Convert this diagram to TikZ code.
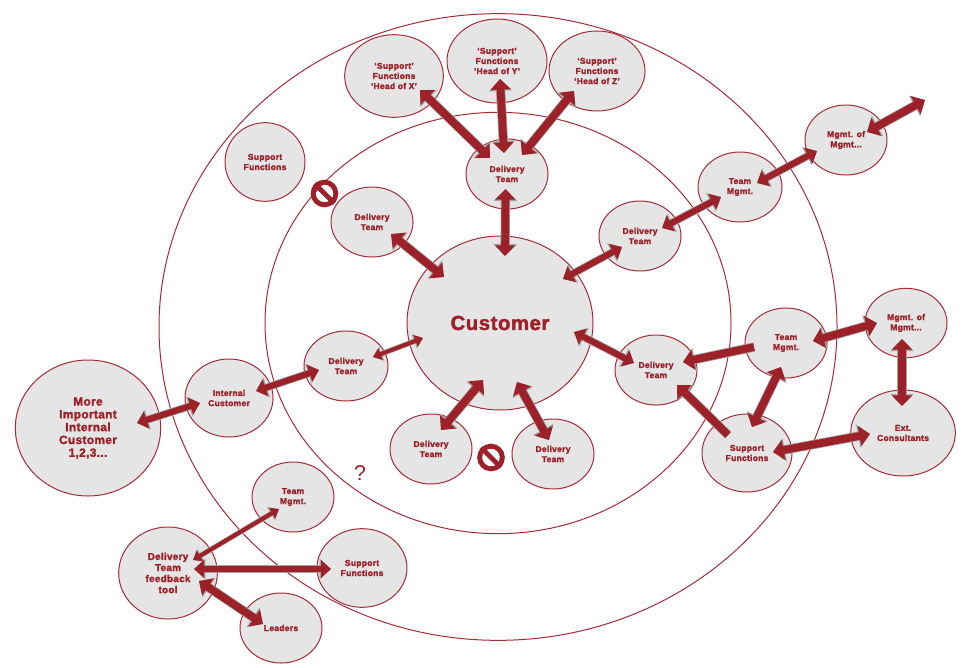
\documentclass[tikz,border=0pt]{standalone}
\usepackage{fontspec}
\setmainfont{Liberation Sans}[BoldFeatures={FakeBold=2,LetterSpace=3}]
\usetikzlibrary{shapes.geometric, arrows.meta}
\definecolor{bubble-red}{HTML}{A62B3A}
\definecolor{link-red}{HTML}{9C2129}
\definecolor{light-bg}{HTML}{E5E5E5}
\definecolor{edge-grey}{HTML}{A3A3A3}
\tikzset{
  ring/.style={draw=bubble-red, line width=0.75pt, ellipse, inner sep=0pt},
  bubble/.style={ring, fill=light-bg, align=center, text=link-red,
    font=\bfseries\fontsize{6.4pt}{7.6pt}\selectfont,
    minimum width=61.5pt, minimum height=52.5pt},
  widelink/.style={draw=link-red, line width=5.8pt, >={Triangle[width=15pt,length=8pt]},
    preaction={draw=edge-grey, line width=7pt, >={Triangle[width=17pt,length=9pt]}}},
  midlink/.style={draw=link-red, line width=4.6pt, >={Triangle[width=13pt,length=7.5pt]},
    preaction={draw=edge-grey, line width=5.8pt, >={Triangle[width=15pt,length=8.5pt]}}},
  thinlink/.style={draw=link-red, line width=3pt, >={Triangle[width=9pt,length=6pt]},
    preaction={draw=edge-grey, line width=4pt, >={Triangle[width=11pt,length=7pt]}}},
  stopsign/.style={circle, draw=link-red, line width=3.7pt, minimum size=17pt, inner sep=0pt},
}
\begin{document}
\begin{tikzpicture}[x=0.75pt, y=-0.75pt]
    % Coordinates are the pixels of the 973x667 frame, y pointing down.
    \useasboundingbox (0,0) rectangle (973,667);
    % two rings round the customer
    \node[ring, minimum width=508.5pt, minimum height=470pt] (outer) at (498,327) {};
    \node[ring, minimum width=349.5pt, minimum height=316pt] (inner) at (498,323) {};
    % bubbles
    \node[bubble, minimum width=139.5pt, minimum height=130.5pt,
          font=\bfseries\fontsize{15.2pt}{18pt}\selectfont] (customer) at (500,323) {Customer};
    \node[bubble, minimum width=74pt, minimum height=62pt] (headx) at (394,76) {‘Support’\\Functions\\‘Head of X’};
    \node[bubble, minimum width=75pt, minimum height=63pt] (heady) at (497,61) {‘Support’\\Functions\\‘Head of Y’};
    \node[bubble, minimum width=72pt, minimum height=60pt] (headz) at (597,71) {‘Support’\\Functions\\‘Head of Z’};
    \node[bubble] (deltop) at (507,174) {Delivery\\Team};
    \node[bubble, minimum width=60pt, minimum height=59pt] (funcleft) at (265,162) {Support\\Functions};
    \node[bubble] (delleft) at (372,222) {Delivery\\Team};
    \node[bubble] (delright) at (640,236) {Delivery\\Team};
    \node[bubble, minimum width=63pt] (teamtop) at (740,187) {Team\\Mgmt.};
    \node[bubble] (mgmttop) at (846,140) {Mgmt. of\\Mgmt...};
    \node[bubble, minimum width=63pt] (dellow) at (346,366) {Delivery\\Team};
    \node[bubble, minimum width=66pt, minimum height=58.5pt] (internal) at (229,398) {Internal\\Customer};
    \node[bubble, minimum width=109pt, minimum height=102pt,
          font=\bfseries\fontsize{8.9pt}{9.6pt}\selectfont] (important) at (88,428)
          {More\\Important\\Internal\\Customer\\1,2,3...};
    \node[bubble] (delbotl) at (431,449) {Delivery\\Team};
    \node[bubble] (delbotr) at (553,454) {Delivery\\Team};
    \node[bubble] (delside) at (656,370) {Delivery\\Team};
    \node[bubble] (teamside) at (786,343) {Team\\Mgmt.};
    \node[bubble, minimum height=52pt] (mgmtside) at (906,323) {Mgmt. of\\Mgmt...};
    \node[bubble, minimum width=78.5pt, minimum height=64.5pt] (consult) at (903,433) {Ext.\\Consultants};
    \node[bubble, minimum width=67.5pt, minimum height=58.5pt] (funcside) at (747,453) {Support\\Functions};
    \node[bubble, minimum width=74pt, minimum height=69pt,
          font=\bfseries\fontsize{7.4pt}{8.3pt}\selectfont] (feedback) at (168,573) {Delivery\\Team\\feedback\\tool};
    \node[bubble] (teamfoot) at (293,497) {Team\\Mgmt.};
    \node[bubble, minimum width=67.5pt, minimum height=59pt] (funcfoot) at (362,568) {Support\\Functions};
    \node[bubble] (leaders) at (281,628) {Leaders};
    \coordinate (offpage) at (925,100);
    % links
    \draw[widelink, <->] ([shift={(26,14)}]headx.center) -- ([shift={(-17,-16)}]deltop.center);
    \draw[widelink, <->] ([shift={(3,18)}]heady.center) -- ([shift={(-3,-21)}]deltop.center);
    \draw[widelink, <->] ([shift={(-23,20)}]headz.center) -- ([shift={(15,-19)}]deltop.center);
    \draw[widelink, <->] ([shift={(-1.5,15)}]deltop.center) -- ([shift={(5,-67)}]customer.center);
    \draw[widelink, <->] ([shift={(19,12)}]delleft.center) -- ([shift={(-56,-46)}]customer.center);
    \draw[midlink, <->] ([shift={(-18,11)}]delright.center) -- ([shift={(63,-44)}]customer.center);
    \draw[midlink, <->] ([shift={(22,-8)}]delright.center) -- ([shift={(-19,10)}]teamtop.center);
    \draw[midlink, <->] ([shift={(17,-4)}]teamtop.center) -- ([shift={(-29,11)}]mgmttop.center);
    \draw[widelink, <->] ([shift={(21,-8)}]mgmttop.center) -- (offpage);
    \draw[midlink, <->] ([shift={(74,9)}]customer.center) -- ([shift={(-22,-7)}]delside.center);
    \draw[widelink, ->] ([shift={(-32,4)}]teamside.center) -- ([shift={(27,-8)}]delside.center);
    \draw[widelink, ->] ([shift={(-19,-18)}]funcside.center) -- ([shift={(21,15)}]delside.center);
    \draw[widelink, <->] ([shift={(5,-26)}]funcside.center) -- ([shift={(-5,24)}]teamside.center);
    \draw[widelink, <->] ([shift={(27,-2)}]teamside.center) -- ([shift={(-29,0)}]mgmtside.center);
    \draw[widelink, <->] ([shift={(-4,16)}]mgmtside.center) -- ([shift={(-1,-27)}]consult.center);
    \draw[widelink, <->] ([shift={(26,-1)}]funcside.center) -- ([shift={(-33,1)}]consult.center);
    \draw[thinlink, <->] ([shift={(27,-9)}]dellow.center) -- ([shift={(-77,15)}]customer.center);
    \draw[midlink, <->] ([shift={(-27,4)}]dellow.center) -- ([shift={(27,-7)}]internal.center);
    \draw[midlink, <->] ([shift={(-29,5)}]internal.center) -- ([shift={(49,-5)}]important.center);
    \draw[widelink, <->] ([shift={(-17,57)}]customer.center) -- ([shift={(10,-19)}]delbotl.center);
    \draw[widelink, <->] ([shift={(17,59)}]customer.center) -- ([shift={(-4,-14)}]delbotr.center);
    \draw[thinlink, <->] ([shift={(25,-13)}]feedback.center) -- ([shift={(-14,12)}]teamfoot.center);
    \draw[midlink, <->] ([shift={(26,-4)}]feedback.center) -- ([shift={(-31,1)}]funcfoot.center);
    \draw[widelink, <->] ([shift={(31,8)}]feedback.center) -- ([shift={(-18,-4)}]leaders.center);
    % no-entry signs and the question mark
    \node[stopsign] (stopleft) at (324.5,193.5) {};
    \draw[link-red, line width=3.7pt] (stopleft.135) -- (stopleft.-45);
    \node[stopsign] (stopfoot) at (491,457.5) {};
    \draw[link-red, line width=3.7pt] (stopfoot.135) -- (stopfoot.-45);
    \node[text=link-red, font=\fontsize{16pt}{18pt}\selectfont, inner sep=0pt] (query) at (360,473) {?};
\end{tikzpicture}
\end{document}
